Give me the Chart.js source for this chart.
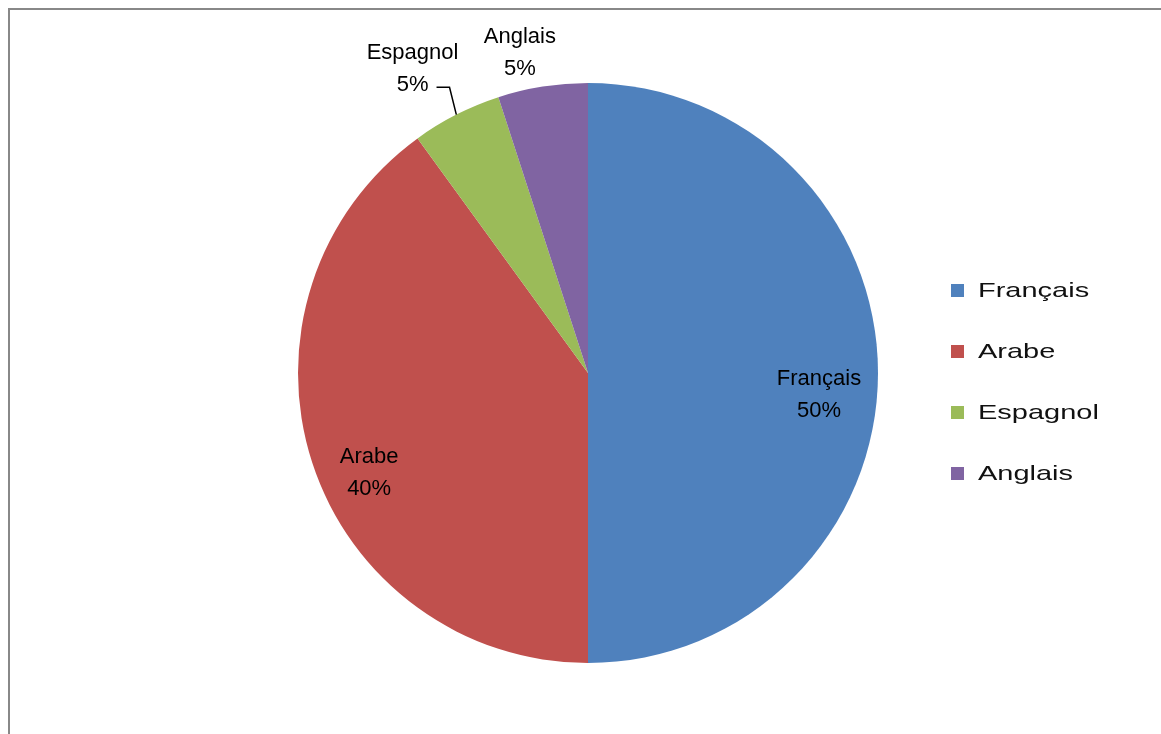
<!DOCTYPE html>
<html>
<head>
<meta charset="utf-8">
<script src="https://cdn.jsdelivr.net/npm/chart.js@4/dist/chart.umd.min.js"></script>
<style>
  html, body { margin: 0; padding: 0; background: #fff; }
  #wrap { position: relative; width: 1161px; height: 734px; }
</style>
</head>
<body>
<div id="wrap"><canvas id="chart" width="1161" height="734"></canvas></div>
<script>
const categories = ['Français', 'Arabe', 'Espagnol', 'Anglais']
const shares = [50, 40, 5, 5]
const colors = ['#4F81BD', '#C0504D', '#9BBB59', '#8064A2']

// label placement per slice (radius factor, angle shift in degrees)
const labelRadius = [0.8, 0.83, 1.21, 1.13]
const labelShift = [5.4, -6.6, -3, -3]

const frame = {
    id: 'frame',
    beforeDraw(chart) {
        const ctx = chart.ctx
        ctx.save()
        ctx.fillStyle = '#fff'
        ctx.fillRect(0, 0, chart.width, chart.height)
        ctx.strokeStyle = '#888'
        ctx.lineWidth = 2
        ctx.beginPath()
        ctx.moveTo(9, chart.height)
        ctx.lineTo(9, 9)
        ctx.lineTo(chart.width, 9)
        ctx.stroke()
        ctx.restore()
    }
}

const sliceLabels = {
    id: 'sliceLabels',
    afterDatasetsDraw(chart) {
        const ctx = chart.ctx
        const meta = chart.getDatasetMeta(0)
        const total = shares.reduce((a, b) => a + b, 0)
        ctx.save()
        ctx.font = '22px "Liberation Sans", Arial, sans-serif'
        ctx.fillStyle = '#000'
        ctx.textAlign = 'center'
        ctx.textBaseline = 'middle'
        meta.data.forEach((arc, i) => {
            const p = arc.getProps(['x', 'y', 'startAngle', 'endAngle', 'outerRadius'], true)
            const mid = (p.startAngle + p.endAngle) / 2
            const a = mid + labelShift[i] * Math.PI / 180
            const r = p.outerRadius * labelRadius[i]
            const x = p.x + Math.cos(a) * r
            const y = p.y + Math.sin(a) * r
            const pct = Math.round(shares[i] / total * 100) + '%'
            ctx.fillText(categories[i], x, y - 16)
            ctx.fillText(pct, x, y + 16)
            if (categories[i] === 'Espagnol') {
                // leader line from slice edge to label
                ctx.strokeStyle = '#000'
                ctx.lineWidth = 1.5
                ctx.beginPath()
                ctx.moveTo(p.x + Math.cos(mid) * p.outerRadius, p.y + Math.sin(mid) * p.outerRadius)
                const bx = p.x + Math.cos(mid + 0.02) * p.outerRadius * 1.095
                const by = p.y + Math.sin(mid + 0.02) * p.outerRadius * 1.095
                ctx.lineTo(bx, by)
                ctx.lineTo(bx - 13, by)
                ctx.stroke()
            }
        })
        ctx.restore()
    }
}

const legendBox = {
    id: 'legendBox',
    afterDraw(chart) {
        const ctx = chart.ctx
        ctx.save()
        ctx.font = '21px "Liberation Sans", Arial, sans-serif'
        ctx.textBaseline = 'middle'
        ctx.fillStyle = '#000'
        categories.forEach((c, i) => {
            const y = 291 + i * 61
            ctx.fillStyle = colors[i]
            ctx.fillRect(951, y - 7, 13, 13)
            ctx.fillStyle = '#111'
            ctx.save()
            ctx.translate(978, y)
            ctx.scale(1.38, 1)
            ctx.fillText(c, 0, 0)
            ctx.restore()
        })
        ctx.restore()
    }
}

new Chart(document.getElementById('chart').getContext('2d'), {
    type: 'pie',
    data: {
        labels: categories,
        datasets: [{
            data: shares,
            backgroundColor: colors,
            borderWidth: 0
        }]
    },
    options: {
        responsive: false,
        animation: false,
        layout: {
            padding: { left: 298, right: 283, top: 83, bottom: 71 }
        },
        plugins: {
            legend: { display: false },
            tooltip: { enabled: false }
        }
    },
    plugins: [frame, sliceLabels, legendBox]
})
</script>
</body>
</html>
